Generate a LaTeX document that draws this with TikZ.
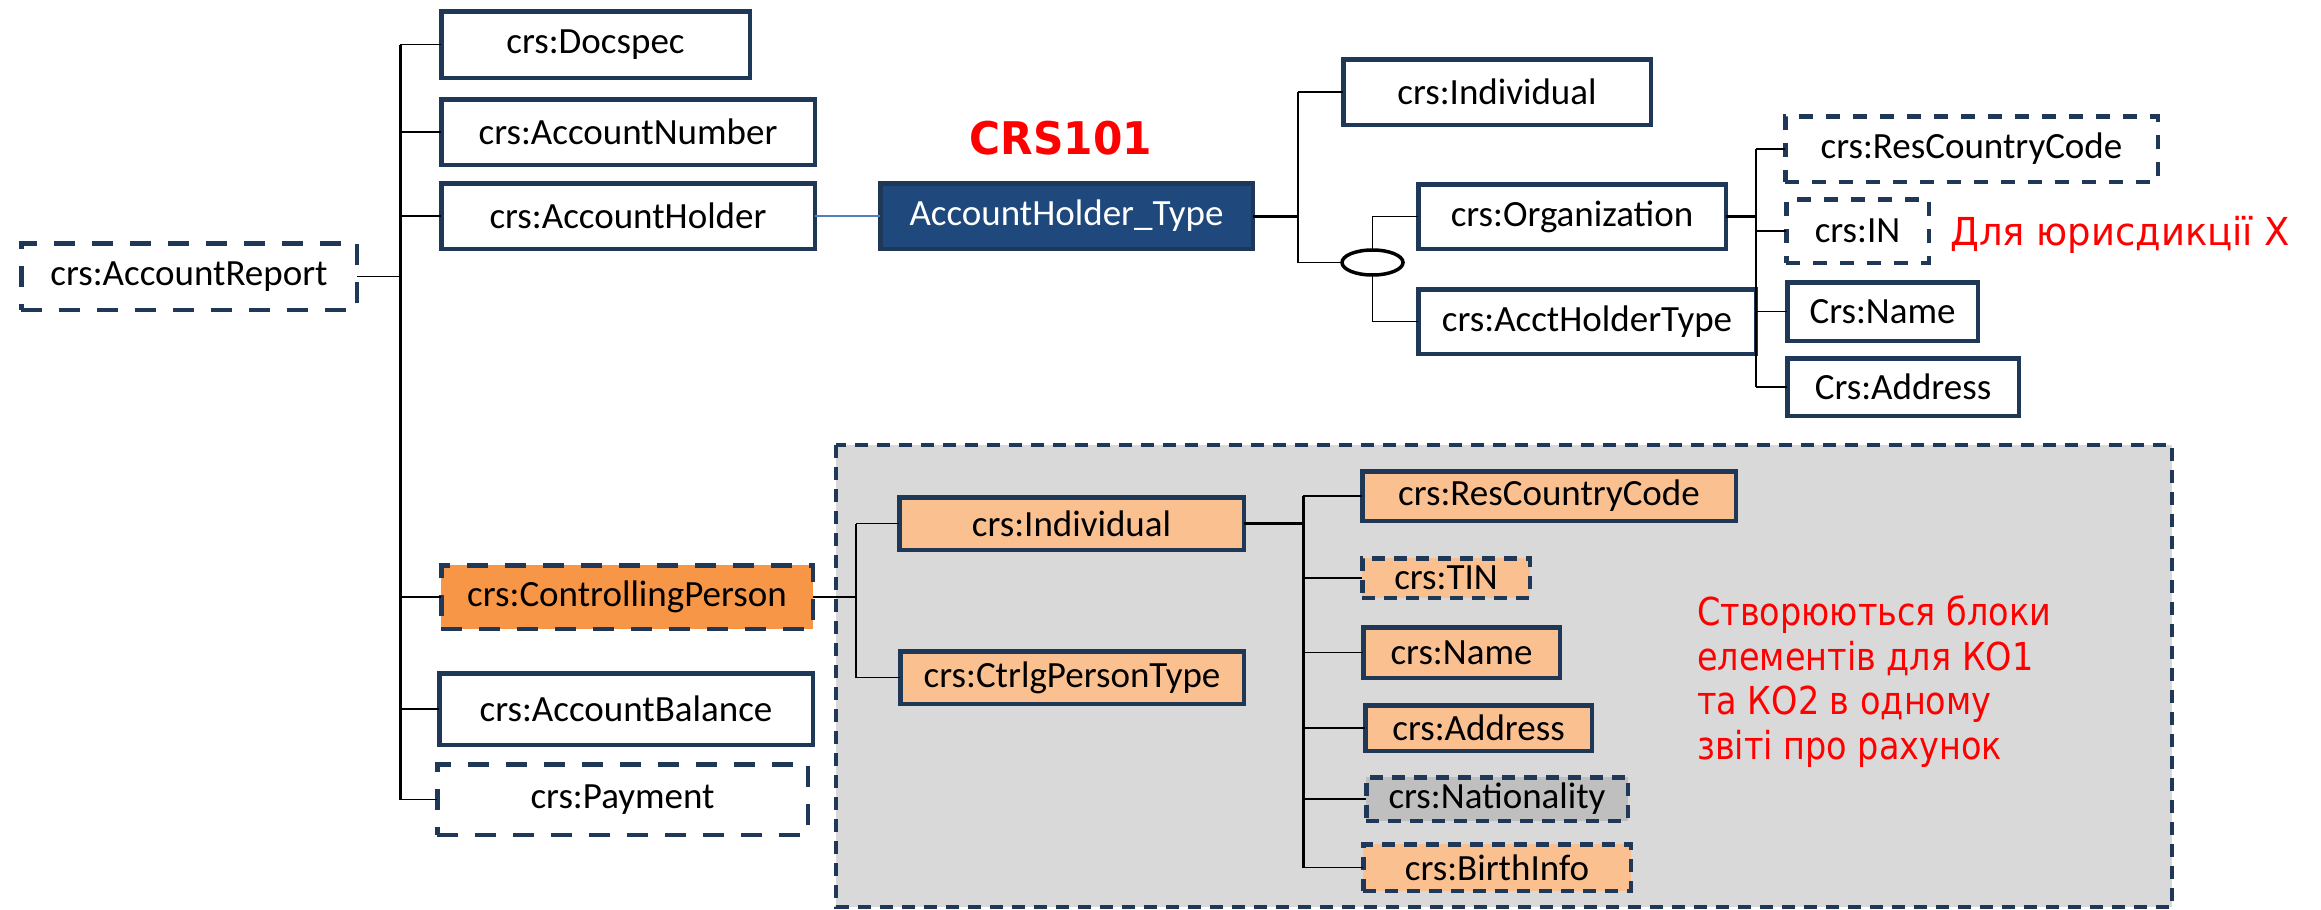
\documentclass[tikz,border=0pt]{standalone}
\usepackage{fontspec}
\setmainfont{Carlito}
\newfontfamily\notefont[FakeStretch=0.87]{DejaVu Sans}
\newfontfamily\jurfont[FakeStretch=0.96]{DejaVu Sans}
\newfontfamily\titlefont[FakeStretch=0.94]{DejaVu Sans Bold}
\usetikzlibrary{shapes.geometric}

\definecolor{navy}{RGB}{32,56,88}
\definecolor{typeblue}{RGB}{31,73,125}
\definecolor{cporange}{HTML}{F79646}
\definecolor{lightorange}{HTML}{FAC090}
\definecolor{panelgray}{HTML}{D9D9D9}
\definecolor{natgray}{HTML}{BFBFBF}
\definecolor{linkblue}{RGB}{79,129,189}
\definecolor{notered}{RGB}{255,0,0}

\newcommand\lbl{\fontsize{37}{44}\selectfont}

\tikzset{
  box/.style={draw=navy, line width=4.5pt, fill=white, font=\lbl, text=black,
    inner sep=0pt, outer sep=0pt, rectangle},
  dbig/.style={dash pattern=on 21pt off 17pt},
  dmid/.style={dash pattern=on 14pt off 13pt},
  dsml/.style={dash pattern=on 13pt off 9pt},
  conn/.style={line width=1.8pt, draw=black},
  trunk/.style={line width=3pt, draw=black},
  sz/.style 2 args={minimum width=#1pt, minimum height=#2pt},
}

\begin{document}
\begin{tikzpicture}[x=1pt, y=-1pt]
\useasboundingbox (0,0) rectangle (2321,910);

% shaded panel holding the controlling-person block
\draw[navy, fill=panelgray, line width=4.5pt, dsml] (836,445) rectangle (2172,907);

% ---- account report level ----
\node[box, dbig, sz={335.5}{66.5}] (rep) at (189,276.5) {crs:AccountReport};
\node[box, sz={308.5}{66.5}] (doc) at (595.5,44.5) {crs:Docspec};
\node[box, sz={373.5}{65.5}] (num) at (628,132) {crs:AccountNumber};
\node[box, sz={373.5}{65.5}] (hold) at (628,216) {crs:AccountHolder};
\node[box, dbig, fill=cporange, sz={371.5}{63.5}] (cp) at (627,597) {crs:ControllingPerson};
\node[box, sz={373.5}{71.5}] (bal) at (626,709) {crs:AccountBalance};
\node[box, dbig, sz={370.5}{70.5}] (pay) at (622.5,799.5) {crs:Payment};

% ---- account holder type ----
\node[box, fill=typeblue, text=white, sz={372.5}{65.5}] (ath) at (1066.5,216) {AccountHolder\_Type};
\node[font=\titlefont\fontsize{45}{50}\selectfont, text=notered] (title) at (1061,138) {CRS101};

\node[box, sz={307.5}{65.5}] (ind) at (1497,92) {crs:Individual};
\node[draw=black, line width=3.5pt, ellipse, fill=white, inner sep=0pt,
      minimum width=61pt, minimum height=25pt, outer sep=0pt] (ch) at (1372.5,262.5) {};
\node[box, sz={307.5}{64.5}] (org) at (1572,216.5) {crs:Organization};
\node[box, sz={337.5}{64.5}] (aht) at (1587,321.5) {crs:AcctHolderType};

\node[box, dmid, sz={372.5}{65.5}] (rcc) at (1971.5,149) {crs:ResCountryCode};
\node[box, dmid, sz={142.5}{63.5}] (in) at (1857.5,231) {crs:IN};
\node[box, sz={190.5}{58.5}] (name) at (1882.5,311.5) {Crs:Name};
\node[box, sz={231.5}{57.5}] (addr) at (1903,387) {Crs:Address};
\node[font=\jurfont\fontsize{38.5}{44}\selectfont, text=notered, anchor=west, inner sep=0pt]
  (jur) at (1950,235) {Для юрисдикції X};

% ---- controlling person block ----
\node[box, fill=lightorange, sz={344.5}{52.5}] (ind2) at (1071.5,523.5) {crs:Individual};
\node[box, fill=lightorange, sz={343.5}{52.5}] (ctp) at (1072,677.5) {crs:CtrlgPersonType};

\node[box, fill=lightorange, sz={373.5}{49.5}] (rcc2) at (1549,496) {crs:ResCountryCode};
\node[box, dsml, fill=lightorange, sz={167.5}{39.5}] (tin) at (1446,578) {crs:TIN};
\node[box, fill=lightorange, sz={196.5}{50.5}] (name2) at (1461.5,652.5) {crs:Name};
\node[box, fill=lightorange, sz={226.5}{45.5}] (addr2) at (1478.5,728) {crs:Address};
\node[box, dsml, fill=natgray, sz={261.5}{43.5}] (nat) at (1497,799) {crs:Nationality};
\node[box, dsml, fill=lightorange, sz={267.5}{46.5}] (birth) at (1497,867.5) {crs:BirthInfo};

\node[font=\notefont\fontsize{38.5}{44.9}\selectfont, text=notered, anchor=north west,
      align=left, inner sep=0pt] (note) at (1697,595)
  {Створюються блоки\\елементів для КО1\\та КО2 в одному\\звіті про рахунок};

% ---- connectors ----
\coordinate (tx) at (400,0);
\coordinate (ax) at (1298,0);
\coordinate (ox) at (1756,0);
\coordinate (cx) at (856,0);
\coordinate (ix) at (1303,0);

% report sequence
\draw[trunk] (doc.west -| tx) -- (pay.west -| tx);
\foreach \n in {doc,num,hold,cp,bal,pay}
  \draw[conn] (tx |- \n.west) -- (\n.west);
\draw[conn] (rep.east) -- (rep.east -| tx);
\draw[linkblue, line width=1.8pt] (hold.east) -- (ath.west);

% account holder type
\draw[conn] (ind.west -| ax) -- (ch.west -| ax);
\draw[trunk] (ath.east) -- (ath.east -| ax);
\draw[conn] (ax |- ind.west) -- (ind.west);
\draw[conn] (ax |- ch.west) -- (ch.west);
\draw[conn] (ch.north) |- (org.west);
\draw[conn] (ch.south) |- (aht.west);

% organisation children
\draw[conn] (rcc.west -| ox) -- (addr.west -| ox);
\draw[trunk] (org.east) -- (org.east -| ox);
\foreach \n in {rcc,in,name,addr}
  \draw[conn] (ox |- \n.west) -- (\n.west);

% controlling person
\draw[conn] (cp.east) -- (cp.east -| cx);
\draw[conn] (ind2.west -| cx) -- (ctp.west -| cx);
\draw[conn] (cx |- ind2.west) -- (ind2.west);
\draw[conn] (cx |- ctp.west) -- (ctp.west);

\draw[trunk] (ind2.east) -- (ind2.east -| ix) -- (tin.west -| ix);
\draw[trunk] (rcc2.west -| ix) -- (birth.west -| ix);
\foreach \n in {rcc2,tin,name2,addr2,nat,birth}
  \draw[conn] (ix |- \n.west) -- (\n.west);
\end{tikzpicture}
\end{document}
